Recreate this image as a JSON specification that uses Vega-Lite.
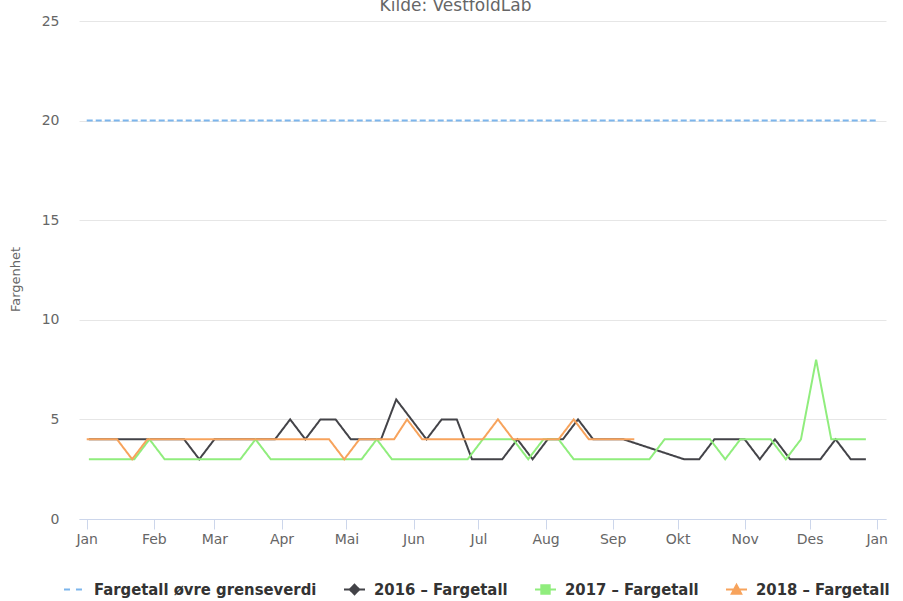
{
  "$schema": "https://vega.github.io/schema/vega-lite/v6.json",
  "width": 807,
  "height": 498,
  "autosize": {"type": "none"},
  "padding": {"left": 79, "top": 21, "right": 17, "bottom": 82},
  "background": "white",
  "config": {
    "view": {"stroke": null},
    "font": "DejaVu Sans"
  },
  "title": {"text": "Kilde: VestfoldLab", "fontSize": 17, "color": "#666666", "font": "DejaVu Sans", "fontWeight": "normal", "anchor": "middle", "baseline": "alphabetic", "offset": 3, "dx": -27, "dy": 17},
  "data": {"values": [
    {"serie": "Fargetall øvre grenseverdi", "dato": "2017-01-01", "verdi": 20},
    {"serie": "Fargetall øvre grenseverdi", "dato": "2018-01-01", "verdi": 20},
    {"serie": "2016 – Fargetall", "dato": "2017-01-02", "verdi": 4},
    {"serie": "2016 – Fargetall", "dato": "2017-01-11", "verdi": 4},
    {"serie": "2016 – Fargetall", "dato": "2017-01-18", "verdi": 4},
    {"serie": "2016 – Fargetall", "dato": "2017-01-25", "verdi": 4},
    {"serie": "2016 – Fargetall", "dato": "2017-02-01", "verdi": 4},
    {"serie": "2016 – Fargetall", "dato": "2017-02-08", "verdi": 4},
    {"serie": "2016 – Fargetall", "dato": "2017-02-15", "verdi": 4},
    {"serie": "2016 – Fargetall", "dato": "2017-02-22", "verdi": 3},
    {"serie": "2016 – Fargetall", "dato": "2017-03-01", "verdi": 4},
    {"serie": "2016 – Fargetall", "dato": "2017-03-08", "verdi": 4},
    {"serie": "2016 – Fargetall", "dato": "2017-03-15", "verdi": 4},
    {"serie": "2016 – Fargetall", "dato": "2017-03-22", "verdi": 4},
    {"serie": "2016 – Fargetall", "dato": "2017-03-29", "verdi": 4},
    {"serie": "2016 – Fargetall", "dato": "2017-04-05", "verdi": 5},
    {"serie": "2016 – Fargetall", "dato": "2017-04-12", "verdi": 4},
    {"serie": "2016 – Fargetall", "dato": "2017-04-19", "verdi": 5},
    {"serie": "2016 – Fargetall", "dato": "2017-04-26", "verdi": 5},
    {"serie": "2016 – Fargetall", "dato": "2017-05-03", "verdi": 4},
    {"serie": "2016 – Fargetall", "dato": "2017-05-10", "verdi": 4},
    {"serie": "2016 – Fargetall", "dato": "2017-05-17", "verdi": 4},
    {"serie": "2016 – Fargetall", "dato": "2017-05-24", "verdi": 6},
    {"serie": "2016 – Fargetall", "dato": "2017-05-31", "verdi": 5},
    {"serie": "2016 – Fargetall", "dato": "2017-06-07", "verdi": 4},
    {"serie": "2016 – Fargetall", "dato": "2017-06-14", "verdi": 5},
    {"serie": "2016 – Fargetall", "dato": "2017-06-21", "verdi": 5},
    {"serie": "2016 – Fargetall", "dato": "2017-06-28", "verdi": 3},
    {"serie": "2016 – Fargetall", "dato": "2017-07-05", "verdi": 3},
    {"serie": "2016 – Fargetall", "dato": "2017-07-12", "verdi": 3},
    {"serie": "2016 – Fargetall", "dato": "2017-07-19", "verdi": 4},
    {"serie": "2016 – Fargetall", "dato": "2017-07-26", "verdi": 3},
    {"serie": "2016 – Fargetall", "dato": "2017-08-02", "verdi": 4},
    {"serie": "2016 – Fargetall", "dato": "2017-08-09", "verdi": 4},
    {"serie": "2016 – Fargetall", "dato": "2017-08-16", "verdi": 5},
    {"serie": "2016 – Fargetall", "dato": "2017-08-23", "verdi": 4},
    {"serie": "2016 – Fargetall", "dato": "2017-08-30", "verdi": 4},
    {"serie": "2016 – Fargetall", "dato": "2017-09-06", "verdi": 4},
    {"serie": "2016 – Fargetall", "dato": "2017-10-04", "verdi": 3},
    {"serie": "2016 – Fargetall", "dato": "2017-10-11", "verdi": 3},
    {"serie": "2016 – Fargetall", "dato": "2017-10-18", "verdi": 4},
    {"serie": "2016 – Fargetall", "dato": "2017-10-25", "verdi": 4},
    {"serie": "2016 – Fargetall", "dato": "2017-11-01", "verdi": 4},
    {"serie": "2016 – Fargetall", "dato": "2017-11-08", "verdi": 3},
    {"serie": "2016 – Fargetall", "dato": "2017-11-15", "verdi": 4},
    {"serie": "2016 – Fargetall", "dato": "2017-11-22", "verdi": 3},
    {"serie": "2016 – Fargetall", "dato": "2017-11-29", "verdi": 3},
    {"serie": "2016 – Fargetall", "dato": "2017-12-06", "verdi": 3},
    {"serie": "2016 – Fargetall", "dato": "2017-12-13", "verdi": 4},
    {"serie": "2016 – Fargetall", "dato": "2017-12-20", "verdi": 3},
    {"serie": "2016 – Fargetall", "dato": "2017-12-27", "verdi": 3},
    {"serie": "2017 – Fargetall", "dato": "2017-01-02", "verdi": 3},
    {"serie": "2017 – Fargetall", "dato": "2017-01-09", "verdi": 3},
    {"serie": "2017 – Fargetall", "dato": "2017-01-16", "verdi": 3},
    {"serie": "2017 – Fargetall", "dato": "2017-01-23", "verdi": 3},
    {"serie": "2017 – Fargetall", "dato": "2017-01-30", "verdi": 4},
    {"serie": "2017 – Fargetall", "dato": "2017-02-06", "verdi": 3},
    {"serie": "2017 – Fargetall", "dato": "2017-02-13", "verdi": 3},
    {"serie": "2017 – Fargetall", "dato": "2017-02-20", "verdi": 3},
    {"serie": "2017 – Fargetall", "dato": "2017-02-27", "verdi": 3},
    {"serie": "2017 – Fargetall", "dato": "2017-03-06", "verdi": 3},
    {"serie": "2017 – Fargetall", "dato": "2017-03-13", "verdi": 3},
    {"serie": "2017 – Fargetall", "dato": "2017-03-20", "verdi": 4},
    {"serie": "2017 – Fargetall", "dato": "2017-03-27", "verdi": 3},
    {"serie": "2017 – Fargetall", "dato": "2017-04-03", "verdi": 3},
    {"serie": "2017 – Fargetall", "dato": "2017-04-10", "verdi": 3},
    {"serie": "2017 – Fargetall", "dato": "2017-04-17", "verdi": 3},
    {"serie": "2017 – Fargetall", "dato": "2017-04-24", "verdi": 3},
    {"serie": "2017 – Fargetall", "dato": "2017-05-01", "verdi": 3},
    {"serie": "2017 – Fargetall", "dato": "2017-05-08", "verdi": 3},
    {"serie": "2017 – Fargetall", "dato": "2017-05-15", "verdi": 4},
    {"serie": "2017 – Fargetall", "dato": "2017-05-22", "verdi": 3},
    {"serie": "2017 – Fargetall", "dato": "2017-05-29", "verdi": 3},
    {"serie": "2017 – Fargetall", "dato": "2017-06-05", "verdi": 3},
    {"serie": "2017 – Fargetall", "dato": "2017-06-12", "verdi": 3},
    {"serie": "2017 – Fargetall", "dato": "2017-06-19", "verdi": 3},
    {"serie": "2017 – Fargetall", "dato": "2017-06-26", "verdi": 3},
    {"serie": "2017 – Fargetall", "dato": "2017-07-03", "verdi": 4},
    {"serie": "2017 – Fargetall", "dato": "2017-07-10", "verdi": 4},
    {"serie": "2017 – Fargetall", "dato": "2017-07-17", "verdi": 4},
    {"serie": "2017 – Fargetall", "dato": "2017-07-24", "verdi": 3},
    {"serie": "2017 – Fargetall", "dato": "2017-07-31", "verdi": 4},
    {"serie": "2017 – Fargetall", "dato": "2017-08-07", "verdi": 4},
    {"serie": "2017 – Fargetall", "dato": "2017-08-14", "verdi": 3},
    {"serie": "2017 – Fargetall", "dato": "2017-08-21", "verdi": 3},
    {"serie": "2017 – Fargetall", "dato": "2017-08-28", "verdi": 3},
    {"serie": "2017 – Fargetall", "dato": "2017-09-04", "verdi": 3},
    {"serie": "2017 – Fargetall", "dato": "2017-09-11", "verdi": 3},
    {"serie": "2017 – Fargetall", "dato": "2017-09-18", "verdi": 3},
    {"serie": "2017 – Fargetall", "dato": "2017-09-25", "verdi": 4},
    {"serie": "2017 – Fargetall", "dato": "2017-10-02", "verdi": 4},
    {"serie": "2017 – Fargetall", "dato": "2017-10-09", "verdi": 4},
    {"serie": "2017 – Fargetall", "dato": "2017-10-16", "verdi": 4},
    {"serie": "2017 – Fargetall", "dato": "2017-10-23", "verdi": 3},
    {"serie": "2017 – Fargetall", "dato": "2017-10-30", "verdi": 4},
    {"serie": "2017 – Fargetall", "dato": "2017-11-06", "verdi": 4},
    {"serie": "2017 – Fargetall", "dato": "2017-11-13", "verdi": 4},
    {"serie": "2017 – Fargetall", "dato": "2017-11-20", "verdi": 3},
    {"serie": "2017 – Fargetall", "dato": "2017-11-27", "verdi": 4},
    {"serie": "2017 – Fargetall", "dato": "2017-12-04", "verdi": 8},
    {"serie": "2017 – Fargetall", "dato": "2017-12-11", "verdi": 4},
    {"serie": "2017 – Fargetall", "dato": "2017-12-18", "verdi": 4},
    {"serie": "2017 – Fargetall", "dato": "2017-12-27", "verdi": 4},
    {"serie": "2018 – Fargetall", "dato": "2017-01-01", "verdi": 4},
    {"serie": "2018 – Fargetall", "dato": "2017-01-08", "verdi": 4},
    {"serie": "2018 – Fargetall", "dato": "2017-01-15", "verdi": 4},
    {"serie": "2018 – Fargetall", "dato": "2017-01-22", "verdi": 3},
    {"serie": "2018 – Fargetall", "dato": "2017-01-29", "verdi": 4},
    {"serie": "2018 – Fargetall", "dato": "2017-02-05", "verdi": 4},
    {"serie": "2018 – Fargetall", "dato": "2017-02-12", "verdi": 4},
    {"serie": "2018 – Fargetall", "dato": "2017-02-19", "verdi": 4},
    {"serie": "2018 – Fargetall", "dato": "2017-02-26", "verdi": 4},
    {"serie": "2018 – Fargetall", "dato": "2017-03-05", "verdi": 4},
    {"serie": "2018 – Fargetall", "dato": "2017-03-12", "verdi": 4},
    {"serie": "2018 – Fargetall", "dato": "2017-03-19", "verdi": 4},
    {"serie": "2018 – Fargetall", "dato": "2017-03-26", "verdi": 4},
    {"serie": "2018 – Fargetall", "dato": "2017-04-02", "verdi": 4},
    {"serie": "2018 – Fargetall", "dato": "2017-04-09", "verdi": 4},
    {"serie": "2018 – Fargetall", "dato": "2017-04-16", "verdi": 4},
    {"serie": "2018 – Fargetall", "dato": "2017-04-23", "verdi": 4},
    {"serie": "2018 – Fargetall", "dato": "2017-04-30", "verdi": 3},
    {"serie": "2018 – Fargetall", "dato": "2017-05-07", "verdi": 4},
    {"serie": "2018 – Fargetall", "dato": "2017-05-14", "verdi": 4},
    {"serie": "2018 – Fargetall", "dato": "2017-05-23", "verdi": 4},
    {"serie": "2018 – Fargetall", "dato": "2017-05-29", "verdi": 5},
    {"serie": "2018 – Fargetall", "dato": "2017-06-05", "verdi": 4},
    {"serie": "2018 – Fargetall", "dato": "2017-06-12", "verdi": 4},
    {"serie": "2018 – Fargetall", "dato": "2017-06-19", "verdi": 4},
    {"serie": "2018 – Fargetall", "dato": "2017-06-26", "verdi": 4},
    {"serie": "2018 – Fargetall", "dato": "2017-07-03", "verdi": 4},
    {"serie": "2018 – Fargetall", "dato": "2017-07-10", "verdi": 5},
    {"serie": "2018 – Fargetall", "dato": "2017-07-17", "verdi": 4},
    {"serie": "2018 – Fargetall", "dato": "2017-07-24", "verdi": 4},
    {"serie": "2018 – Fargetall", "dato": "2017-07-31", "verdi": 4},
    {"serie": "2018 – Fargetall", "dato": "2017-08-07", "verdi": 4},
    {"serie": "2018 – Fargetall", "dato": "2017-08-14", "verdi": 5},
    {"serie": "2018 – Fargetall", "dato": "2017-08-21", "verdi": 4},
    {"serie": "2018 – Fargetall", "dato": "2017-08-28", "verdi": 4},
    {"serie": "2018 – Fargetall", "dato": "2017-09-04", "verdi": 4},
    {"serie": "2018 – Fargetall", "dato": "2017-09-11", "verdi": 4}
  ]},
  "layer": [
    {
      "mark": {"type": "line", "strokeWidth": 2},
      "encoding": {
        "x": {
          "field": "dato", "type": "temporal",
          "scale": {"domain": [{"year": 2016, "month": 12, "date": 28, "hours": 10, "minutes": 30}, {"year": 2018, "month": 1, "date": 5, "hours": 7}]},
          "axis": {
            "title": null,
            "tickCount": {"interval": "month", "step": 1},
            "labelExpr": "['Jan','Feb','Mar','Apr','Mai','Jun','Jul','Aug','Sep','Okt','Nov','Des'][month(datum.value)]",
            "grid": false,
            "domainColor": "#ccd6eb",
            "domainWidth": 1,
            "tickColor": "#ccd6eb",
            "tickSize": 10,
            "labelFontSize": 14,
            "labelColor": "#666666",
            "labelFont": "DejaVu Sans",
            "labelPadding": 3,
            "labelFlush": false,
            "labelOverlap": false
          }
        },
        "y": {
          "field": "verdi", "type": "quantitative",
          "scale": {"domain": [0, 25], "nice": false, "zero": true},
          "axis": {
            "title": "Fargenhet",
            "titleFontSize": 13,
            "titleColor": "#666666",
            "titleFontWeight": "normal",
            "titleFont": "DejaVu Sans",
            "titleX": -64,
            "titleY": 258,
            "titleAngle": -90,
            "titleBaseline": "middle",
            "titleAlign": "center",
            "values": [0, 5, 10, 15, 20, 25],
            "domain": false,
            "ticks": false,
            "gridColor": "#e6e6e6",
            "gridWidth": 1,
            "labelFontSize": 14,
            "labelColor": "#666666",
            "labelFont": "DejaVu Sans",
            "labelPadding": 20
          }
        },
        "color": {
          "field": "serie", "type": "nominal",
          "scale": {
            "domain": ["Fargetall øvre grenseverdi", "2016 – Fargetall", "2017 – Fargetall", "2018 – Fargetall"],
            "range": ["#7cb5ec", "#434348", "#90ed7d", "#f7a35c"]
          },
          "legend": {
            "title": null, "orient": "none", "legendX": -16, "legendY": 557,
            "direction": "horizontal", "gridAlign": "none",
            "symbolSize": 441, "symbolStrokeWidth": 2, "symbolOpacity": 1,
            "labelFontSize": 16.5, "labelFont": "DejaVu Sans Condensed", "labelFontWeight": "bold", "labelColor": "#333333",
            "labelOffset": 8, "columnPadding": 23, "labelLimit": 400
          }
        },
        "strokeDash": {
          "field": "serie", "type": "nominal",
          "scale": {
            "domain": ["Fargetall øvre grenseverdi", "2016 – Fargetall", "2017 – Fargetall", "2018 – Fargetall"],
            "range": [[6, 3], [1, 0], [1, 0], [1, 0]]
          },
          "legend": null
        }
      }
    },
    {
      "mark": {"type": "point", "filled": true, "strokeWidth": 2, "opacity": 1},
      "transform": [{"filter": "false"}],
      "encoding": {
        "x": {"field": "dato", "type": "temporal"},
        "y": {"field": "verdi", "type": "quantitative"},
        "color": {"field": "serie", "type": "nominal"},
        "shape": {
          "field": "serie", "type": "nominal",
          "scale": {
            "domain": ["Fargetall øvre grenseverdi", "2016 – Fargetall", "2017 – Fargetall", "2018 – Fargetall"],
            "range": ["M-1,0H-0.14M0.14,0H1", "M-1,0H1M0,-0.45L0.45,0L0,0.45L-0.45,0Z", "M-1,0H1M-0.4,-0.4H0.4V0.4H-0.4Z", "M-1,0H1M0,-0.45L0.45,0.4L-0.45,0.4Z"]
          },
          "legend": {
            "title": null, "orient": "none", "legendX": -16, "legendY": 557,
            "direction": "horizontal", "gridAlign": "none",
            "symbolSize": 441, "symbolStrokeWidth": 2, "symbolOpacity": 1,
            "labelFontSize": 16.5, "labelFont": "DejaVu Sans Condensed", "labelFontWeight": "bold", "labelColor": "#333333",
            "labelOffset": 8, "columnPadding": 23, "labelLimit": 400
          }
        }
      }
    }
  ]
}
